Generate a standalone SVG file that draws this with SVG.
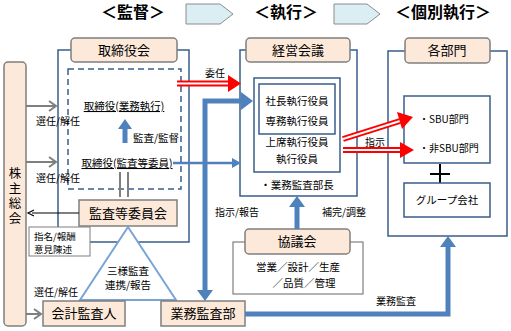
<svg xmlns="http://www.w3.org/2000/svg" width="511" height="331" viewBox="0 0 511 331">
<style>
text{font-family:"Noto Sans CJK JP","Noto Sans",sans-serif;fill:#000}
.ttl{font-size:16px;font-weight:bold;text-anchor:middle}
.lg{font-size:13px;text-anchor:middle}
.vt{font-size:12.5px;text-anchor:middle;writing-mode:vertical-rl;letter-spacing:2.5px}
.md{font-size:10.5px;text-anchor:middle}
.sm{font-size:10px}
.xs{font-size:9.5px}
.peach{fill:#FDE9D9;stroke:#7F7F7F;stroke-width:1.5}
.frame{fill:#fff;stroke:#385D8A;stroke-width:1.5}
.gframe{fill:#fff;stroke:#7F7F7F;stroke-width:1.2}
.thick{fill:none;stroke:#4F81BD;stroke-width:5}
.bluehead{fill:#4F81BD}
.red{fill:none;stroke:#FF0000;stroke-width:6}
.redin{fill:none;stroke:#fff;stroke-width:2}
.redhead{fill:#FF0000}
.gray{fill:none;stroke:#7F7F7F;stroke-width:2}
.grayhead{fill:none;stroke:#7F7F7F;stroke-width:2}
</style>
<rect width="511" height="331" fill="#fff"/>

<!-- headers -->
<g id="headers">
<text class="ttl" x="133" y="18">＜監督＞</text>
<polygon points="186,4 220,4 233,14 220,24 186,24" fill="#DAEEF3" stroke="#8C8C8C" stroke-width="1"/>
<text class="ttl" x="286" y="18">＜執行＞</text>
<polygon points="334,4 367,4 380,14 367,24 334,24" fill="#DAEEF3" stroke="#8C8C8C" stroke-width="1"/>
<text class="ttl" x="443" y="18">＜個別執行＞</text>
</g>

<!-- 株主総会 -->
<g id="shareholders">
<rect class="peach" x="4" y="62" width="22" height="264" rx="4"/>
<text class="vt" x="15" y="197">株主総会</text>
</g>

<!-- 取締役会 -->
<g id="board">
<rect class="frame" x="58" y="50" width="131" height="192"/>
<rect class="peach" x="71" y="38" width="106" height="24" rx="4"/>
<text class="lg" x="124" y="55">取締役会</text>
<rect x="68" y="69" width="113" height="120" fill="none" stroke="#385D8A" stroke-width="1.5" stroke-dasharray="6,4"/>
<text class="md" x="124" y="110" text-decoration="underline">取締役(業務執行)</text>
<text class="md" x="127" y="167" text-decoration="underline">取締役(監査等委員)</text>
<text class="md" x="156" y="142">監査/監督</text>
</g>

<!-- 監査等委員会 -->
<g id="audit-committee">
<rect class="peach" x="79" y="200" width="98" height="26"/>
<text class="lg" x="128" y="218">監査等委員会</text>
</g>

<!-- 指名/報酬 -->
<g id="nomination">
<rect x="29" y="227" width="61" height="29" fill="#fff" stroke="#7F7F7F" stroke-width="1"/>
<text class="xs" x="34" y="239.5">指名/報酬</text>
<text class="xs" x="34" y="253">意見陳述</text>
</g>

<!-- 三様監査 -->
<g id="triangle">
<polygon points="128,227 80,300 176,300" fill="#fff" stroke="#7BA3D6" stroke-width="2"/>
<text class="md" x="128" y="275">三様監査</text>
<text class="md" x="128" y="289">連携/報告</text>
</g>

<!-- 会計監査人 -->
<g id="accounting-auditor">
<rect class="peach" x="43" y="301" width="82" height="25"/>
<text class="lg" x="84" y="318">会計監査人</text>
</g>

<!-- 業務監査部 -->
<g id="internal-audit">
<rect class="peach" x="161" y="301" width="84" height="25"/>
<text class="lg" x="203" y="318">業務監査部</text>
</g>

<!-- 経営会議 -->
<g id="management">
<rect class="frame" x="240" y="50" width="117" height="146"/>
<rect class="peach" x="246" y="38" width="104" height="24" rx="4"/>
<text class="lg" x="298" y="55">経営会議</text>
<rect class="frame" x="254" y="78" width="86" height="94"/>
<rect class="frame" x="259" y="84" width="76" height="50"/>
<text class="md" x="297" y="105">社長執行役員</text>
<text class="md" x="297" y="125">専務執行役員</text>
<text class="md" x="297" y="146">上席執行役員</text>
<text class="md" x="297" y="163">執行役員</text>
<text class="md" x="297" y="189">・業務監査部長</text>
</g>

<!-- 協議会 -->
<g id="council">
<rect class="gframe" x="233" y="242" width="130" height="52"/>
<rect class="peach" x="245" y="229" width="105" height="25" rx="4"/>
<text class="lg" x="297" y="246">協議会</text>
<text class="md" x="298" y="271">営業／設計／生産</text>
<text class="md" x="304" y="287">／品質／管理</text>
</g>

<!-- 各部門 -->
<g id="divisions">
<rect class="frame" x="388" y="51" width="119" height="185"/>
<rect class="peach" x="405" y="38" width="85" height="25" rx="4"/>
<text class="lg" x="447" y="55">各部門</text>
<rect class="frame" x="404" y="96" width="86" height="67"/>
<text class="sm" x="419" y="123">・SBU部門</text>
<text class="sm" x="419" y="152">・非SBU部門</text>
<path d="M430,174 H450 M440,164 V184" stroke="#000" stroke-width="2" fill="none"/>
<rect class="frame" x="404" y="183" width="86" height="34"/>
<text class="md" x="447" y="204">グループ会社</text>
</g>

<!-- connectors -->
<g id="connectors">
<path class="gray" d="M26,106 H55"/>
<path class="grayhead" d="M49,101 L56,106 L49,111"/>
<path class="gray" d="M26,162 H55"/>
<path class="grayhead" d="M49,157 L56,162 L49,167"/>
<path class="gray" d="M26,314 H40"/>
<path class="grayhead" d="M34,309 L41,314 L34,319"/>
<text class="sm" x="36" y="125">選任/解任</text>
<text class="sm" x="36" y="182">選任/解任</text>
<text class="sm" x="34" y="296">選任/解任</text>

<path d="M120,172 V197 M128,172 V197" stroke="#7F7F7F" stroke-width="2" fill="none"/>

<path d="M79,213 H32" stroke="#000" stroke-width="1.2" fill="none"/>
<path d="M34,210 L28,213 L34,216" stroke="#000" stroke-width="1.2" fill="none"/>

<path class="thick" d="M125,143 V128"/>
<polygon class="bluehead" points="118,129 125,119 132,129"/>

<path class="red" d="M177,83.5 H229"/>
<path class="redin" d="M177,83.5 H229"/>
<polygon class="redhead" points="228,75 241,83.5 228,92"/>
<text class="sm" x="205" y="77">委任</text>

<path d="M173,163 H233" stroke="#4F81BD" stroke-width="2.5" fill="none"/>
<polygon class="bluehead" points="232,158 241,163 232,168"/>

<path class="thick" d="M205,292 V101 H242" stroke-linejoin="miter"/>
<polygon class="bluehead" points="241,92 253,101 241,110"/>
<polygon class="bluehead" points="197,290 205,301 213,290"/>
<text class="sm" x="215" y="216">指示/報告</text>

<path class="thick" d="M297,229 V206"/>
<polygon class="bluehead" points="289,207 297,196 305,207"/>
<text class="sm" x="322" y="216">補完/調整</text>

<path class="red" d="M343,139 L400,121"/>
<path class="redin" d="M343,139 L400,121"/>
<polygon class="redhead" points="402,129 413,117 397,112"/>
<path class="red" d="M343,150 H401"/>
<path class="redin" d="M343,150 H401"/>
<polygon class="redhead" points="400,142 414,150 400,158"/>
<text class="sm" x="365" y="146">指示</text>

<path class="thick" d="M245,314 H448 V246"/>
<polygon class="bluehead" points="440,247 448,236 456,247"/>
<text class="sm" x="376" y="305">業務監査</text>
</g>
</svg>
